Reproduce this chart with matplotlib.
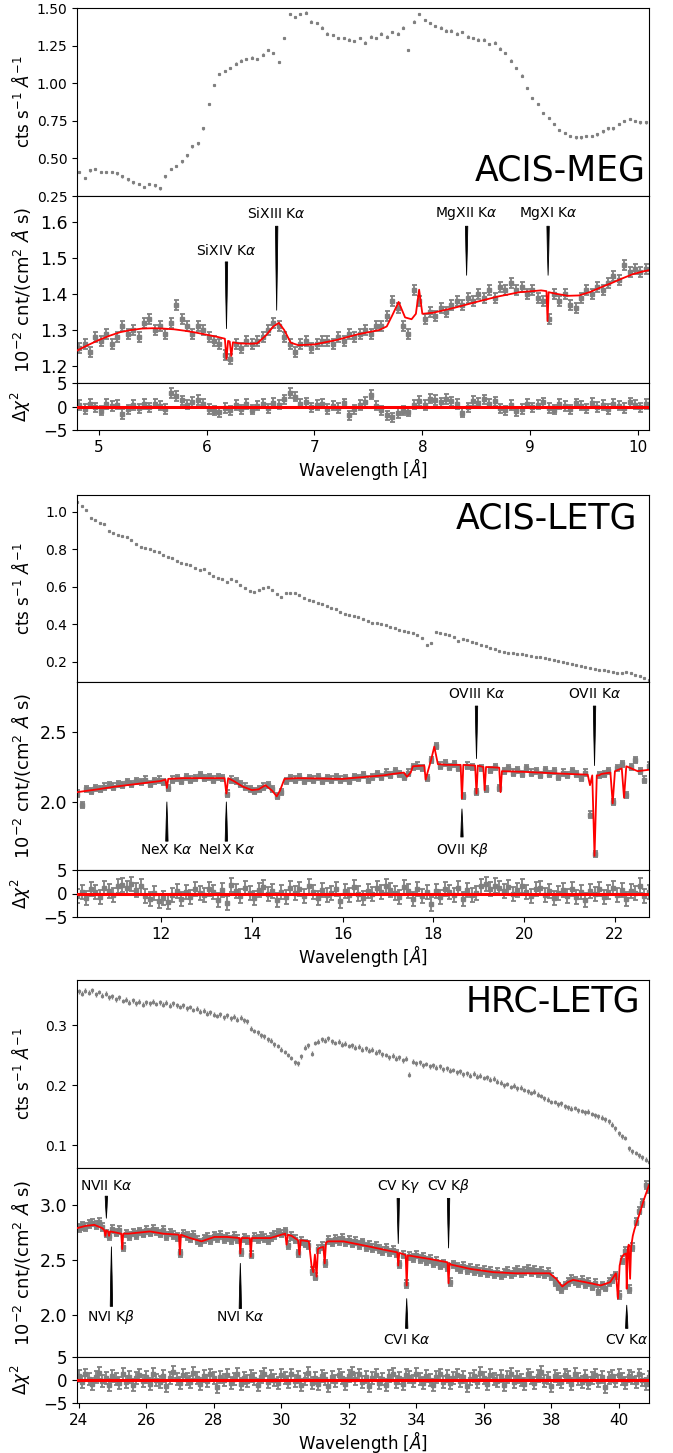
import numpy as np
import matplotlib
matplotlib.use('Agg')
import matplotlib.pyplot as plt

# ---------------- ACIS-MEG ----------------
# count rate (cts/s/A), 0.05 A bins starting at 4.82 A
meg_rate = [0.41, 0.37, 0.42, 0.43, 0.41, 0.41, 0.41, 0.40, 0.38, 0.36,
            0.34, 0.33, 0.31, 0.33, 0.32, 0.30, 0.38, 0.43, 0.45, 0.48,
            0.52, 0.58, 0.60, 0.70, 0.86, 0.99, 1.06, 1.08, 1.10, 1.13,
            1.15, 1.16, 1.17, 1.16, 1.19, 1.22, 1.20, 1.14, 1.30, 1.46,
            1.44, 1.46, 1.47, 1.41, 1.40, 1.37, 1.33, 1.32, 1.30, 1.30,
            1.29, 1.28, 1.30, 1.27, 1.31, 1.30, 1.33, 1.31, 1.34, 1.33,
            1.37, 1.22, 1.41, 1.46, 1.42, 1.40, 1.38, 1.37, 1.35, 1.35,
            1.33, 1.34, 1.31, 1.30, 1.29, 1.29, 1.26, 1.27, 1.23, 1.20,
            1.15, 1.10, 1.05, 0.97, 0.90, 0.86, 0.80, 0.77, 0.73, 0.69,
            0.67, 0.65, 0.64, 0.64, 0.65, 0.65, 0.66, 0.68, 0.70, 0.70,
            0.73, 0.75, 0.76, 0.75, 0.74, 0.74]
# unfolded flux (1e-2 cnt/cm2/A/s)
meg_flux = [1.25, 1.26, 1.24, 1.28, 1.27, 1.29, 1.26, 1.28, 1.31, 1.29,
            1.30, 1.28, 1.32, 1.33, 1.30, 1.31, 1.29, 1.32, 1.37, 1.33,
            1.31, 1.29, 1.31, 1.30, 1.28, 1.27, 1.26, 1.23, 1.22, 1.26,
            1.25, 1.27, 1.26, 1.27, 1.28, 1.30, 1.32, 1.31, 1.28, 1.26,
            1.24, 1.26, 1.27, 1.25, 1.26, 1.27, 1.27, 1.26, 1.28, 1.27,
            1.29, 1.28, 1.29, 1.30, 1.29, 1.31, 1.31, 1.34, 1.38, 1.36,
            1.31, 1.29, 1.41, 1.38, 1.33, 1.35, 1.34, 1.36, 1.35, 1.37,
            1.38, 1.37, 1.39, 1.38, 1.40, 1.39, 1.41, 1.39, 1.42, 1.41,
            1.43, 1.41, 1.42, 1.40, 1.41, 1.39, 1.38, 1.33, 1.40, 1.38,
            1.40, 1.37, 1.36, 1.39, 1.41, 1.40, 1.42, 1.41, 1.43, 1.45,
            1.44, 1.48, 1.46, 1.47, 1.46, 1.47]
meg_model_x = [4.80, 4.90, 5.00, 5.10, 5.20, 5.30, 5.40, 5.50, 5.60, 5.70,
               5.80, 5.90, 6.00, 6.10, 6.17, 6.185, 6.20, 6.215, 6.23, 6.245,
               6.30, 6.40, 6.47, 6.55, 6.62, 6.67, 6.72, 6.78, 6.85, 7.00,
               7.20, 7.40, 7.60, 7.67, 7.72, 7.78, 7.84, 7.90, 7.94, 7.97,
               8.00, 8.10, 8.30, 8.50, 8.70, 8.90, 9.10, 9.15, 9.16, 9.17,
               9.25, 9.35, 9.45, 9.55, 9.65, 9.75, 9.85, 9.95, 10.05, 10.10]
meg_model_y = [1.243, 1.258, 1.272, 1.284, 1.294, 1.300, 1.304, 1.305, 1.304, 1.302,
               1.298, 1.293, 1.287, 1.281, 1.276, 1.220, 1.270, 1.268, 1.228, 1.266,
               1.263, 1.262, 1.263, 1.285, 1.310, 1.320, 1.300, 1.265, 1.258, 1.260,
               1.272, 1.288, 1.300, 1.310, 1.340, 1.378, 1.335, 1.330, 1.345, 1.412,
               1.345, 1.348, 1.362, 1.378, 1.393, 1.405, 1.410, 1.408, 1.325, 1.405,
               1.400, 1.395, 1.396, 1.405, 1.418, 1.430, 1.443, 1.455, 1.463, 1.466]
meg_resid = [0.3, -0.5, 0.6, -0.2, -0.9, 0.5, 0.1, 0.4, -1.6, -0.6,
             0.3, -0.4, 0.5, -0.2, 0.6, 0.2, -0.5, 2.9, 2.2, 1.3,
             0.4, 1.0, 1.4, 0.6, -0.5, -0.9, -1.2, -0.3, -0.8, 0.3,
             -0.6, 0.5, -0.7, 0.2, 0.6, -0.4, 0.8, 0.4, 1.5, 2.9,
             2.1, 0.6, 0.9, -0.2, 0.3, 0.6, -0.5, 0.2, -0.3, 0.7,
             -1.9, -0.6, 0.3, 1.0, 2.5, 0.2, -0.8, -1.9, -2.3, -1.4,
             -0.9, -1.1, 0.4, 1.2, 0.3, 1.7, 1.4, 0.9, 1.6, 1.1,
             0.5, -1.3, -0.2, 1.2, 0.8, 1.5, 0.6, 1.1, -0.4, -0.8,
             0.3, -1.0, -0.5, 0.6, -0.2, 0.4, 0.9, -0.3, -0.7, 0.5,
             0.1, -0.6, 0.7, 0.2, -0.4, 0.8, -0.1, 0.3, -0.5, 0.6,
             0.2, -0.3, 0.9, 0.4, -0.2, 0.5]
meg_lines = ['SiXIV K$\\alpha$', 'SiXIII K$\\alpha$', 'MgXII K$\\alpha$', 'MgXI K$\\alpha$']
meg_line_x = [6.185, 6.65, 8.41, 9.165]
meg_line_text_y = [1.521, 1.623, 1.623, 1.623]
meg_line_tail_y = [1.489, 1.588, 1.588, 1.588]
meg_line_tip_y = [1.304, 1.355, 1.452, 1.452]

# ---------------- ACIS-LETG ----------------
# 0.1 A bins from 10.15 A
letg_rate = [1.055, 1.03, 1.01, 0.97, 0.955, 0.94, 0.935, 0.90, 0.885, 0.875,
             0.87, 0.865, 0.85, 0.83, 0.815, 0.81, 0.80, 0.79, 0.785, 0.77,
             0.76, 0.755, 0.74, 0.73, 0.72, 0.715, 0.70, 0.69, 0.695, 0.675,
             0.66, 0.645, 0.64, 0.625, 0.64, 0.63, 0.61, 0.595, 0.58, 0.575,
             0.585, 0.595, 0.60, 0.585, 0.56, 0.545, 0.565, 0.57, 0.565, 0.555,
             0.54, 0.53, 0.525, 0.515, 0.51, 0.50, 0.49, 0.48, 0.465, 0.455,
             0.45, 0.445, 0.44, 0.43, 0.42, 0.41, 0.405, 0.40, 0.395, 0.385,
             0.38, 0.37, 0.365, 0.36, 0.355, 0.345, 0.33, 0.29, 0.30, 0.36,
             0.355, 0.35, 0.345, 0.335, 0.31, 0.32, 0.315, 0.305, 0.30, 0.29,
             0.285, 0.275, 0.27, 0.26, 0.255, 0.25, 0.245, 0.24, 0.24, 0.235,
             0.23, 0.225, 0.225, 0.22, 0.215, 0.21, 0.205, 0.20, 0.195, 0.19,
             0.185, 0.18, 0.175, 0.17, 0.16, 0.155, 0.155, 0.15, 0.145, 0.14,
             0.14, 0.145, 0.14, 0.13, 0.125, 0.115, 0.105]
letg_flux = [2.06, 1.98, 2.09, 2.08, 2.10, 2.09, 2.11, 2.12, 2.11, 2.13,
             2.12, 2.14, 2.13, 2.15, 2.14, 2.16, 2.13, 2.15, 2.16, 2.14,
             2.10, 2.16, 2.17, 2.15, 2.18, 2.16, 2.17, 2.19, 2.17, 2.18,
             2.16, 2.18, 2.17, 2.06, 2.16, 2.15, 2.13, 2.11, 2.09, 2.08,
             2.09, 2.11, 2.12, 2.09, 2.04, 2.07, 2.15, 2.17, 2.16, 2.18,
             2.15, 2.17, 2.16, 2.18, 2.15, 2.17, 2.16, 2.18, 2.16, 2.17,
             2.15, 2.18, 2.17, 2.19, 2.16, 2.18, 2.20, 2.18, 2.21, 2.19,
             2.22, 2.20, 2.18, 2.21, 2.25, 2.26, 2.24, 2.17, 2.30, 2.40,
             2.26, 2.28, 2.25, 2.27, 2.24, 2.04, 2.26, 2.25, 2.07, 2.24,
             2.09, 2.23, 2.25, 2.10, 2.22, 2.24, 2.21, 2.23, 2.20, 2.24,
             2.21, 2.22, 2.19, 2.23, 2.20, 2.22, 2.18, 2.21, 2.19, 2.22,
             2.20, 2.17, 2.21, 1.91, 1.63, 2.19, 2.20, 2.22, 2.00, 2.24,
             2.27, 2.05, 2.25, 2.30, 2.22, 2.16, 2.26]
letg_model_x = [10.15, 10.6, 11.0, 11.5, 12.0, 12.10, 12.13, 12.16, 12.5, 13.0,
                13.40, 13.44, 13.48, 13.6, 13.8, 14.0, 14.15, 14.3, 14.45, 14.55,
                14.62, 14.72, 15.0, 16.0, 16.9, 17.1, 17.35, 17.42, 17.5, 17.55,
                17.8, 17.83, 17.88, 17.95, 18.02, 18.1, 18.3, 18.55, 18.6, 18.63,
                18.66, 18.92, 18.95, 18.98, 19.1, 19.13, 19.16, 19.45, 19.48, 19.51,
                20.0, 21.0, 21.4, 21.45, 21.5, 21.55, 21.6, 21.65, 21.7, 21.9,
                21.95, 22.0, 22.15, 22.2, 22.25, 22.5, 22.75]
letg_model_y = [2.07, 2.09, 2.11, 2.13, 2.15, 2.16, 2.10, 2.165, 2.17, 2.17,
                2.17, 2.06, 2.17, 2.15, 2.11, 2.085, 2.09, 2.12, 2.08, 2.04,
                2.08, 2.165, 2.17, 2.165, 2.19, 2.20, 2.21, 2.18, 2.21, 2.255,
                2.26, 2.16, 2.22, 2.30, 2.395, 2.27, 2.265, 2.265, 2.265, 2.025,
                2.265, 2.26, 2.06, 2.26, 2.25, 2.085, 2.25, 2.245, 2.07, 2.22,
                2.215, 2.20, 2.195, 2.12, 2.19, 1.615, 2.19, 2.19, 2.20, 2.21,
                1.99, 2.22, 2.24, 2.03, 2.255, 2.22, 2.23]
letg_resid = [-0.6, 0.4, -1.0, 0.9, 0.3, -0.8, 1.2, 0.5, -0.4, 1.6,
              1.9, 1.1, 2.0, 0.8, 1.5, -0.5, -1.2, 0.2, -1.5, -0.9,
              -1.8, -0.4, 0.6, -1.1, 0.3, -0.7, 0.9, 0.1, -0.3, 1.0,
              0.4, -1.4, 0.7, -2.0, 1.8, 0.5, -0.6, 1.1, 0.2, -0.9,
              0.8, 1.4, -0.2, 0.6, -1.3, 0.3, -0.8, 1.2, 0.1, 0.9,
              -0.5, 1.5, 0.4, -1.0, 0.7, -0.3, 0.2, 1.0, -1.6, 0.5,
              -0.4, 1.3, 0.0, -0.9, 0.6, -0.2, 1.1, 0.3, 1.6, 0.8,
              0.2, -0.7, 1.4, 0.5, -1.2, 0.9, -0.5, 0.3, -2.3, 0.6,
              -0.8, 1.0, 0.4, -0.3, 1.2, -1.1, 0.7, -0.4, 0.1, 1.5,
              2.0, 0.9, 1.7, 1.1, 0.6, 1.3, -0.2, 0.8, 1.6, 0.4,
              -0.6, 0.9, 1.2, -0.3, 0.5, -1.0, 0.2, 0.7, -0.5, 1.0,
              -0.8, 0.4, -1.3, 0.6, -0.2, 0.9, -0.7, 0.3, 1.1, -0.4,
              0.8, -1.1, 0.5, 0.2, 1.7, -0.6, 0.3]
letg_lines = ['NeX K$\\alpha$', 'NeIX K$\\alpha$', 'OVII K$\\beta$', 'OVIII K$\\alpha$', 'OVII K$\\alpha$']
letg_line_x = [12.13, 13.44, 18.63, 18.95, 21.55]
letg_line_text_y = [1.66, 1.66, 1.66, 2.77, 2.77]
letg_line_tail_y = [1.72, 1.72, 1.75, 2.685, 2.685]
letg_line_tip_y = [2.00, 2.00, 1.95, 2.31, 2.26]

# ---------------- HRC-LETG ----------------
# 0.1 A bins from 24.0 A
hrc_rate = [0.356, 0.352, 0.357, 0.354, 0.358, 0.351, 0.355, 0.349, 0.352, 0.346,
            0.348, 0.343, 0.346, 0.340, 0.342, 0.337, 0.341, 0.336, 0.339, 0.334,
            0.338, 0.336, 0.339, 0.335, 0.338, 0.334, 0.337, 0.332, 0.336, 0.333,
            0.330, 0.333, 0.328, 0.330, 0.325, 0.327, 0.322, 0.324, 0.319, 0.321,
            0.317, 0.315, 0.318, 0.313, 0.316, 0.311, 0.314, 0.309, 0.312, 0.308,
            0.306, 0.294, 0.290, 0.288, 0.283, 0.281, 0.276, 0.274, 0.268, 0.265,
            0.259, 0.255, 0.250, 0.245, 0.238, 0.236, 0.248, 0.262, 0.266, 0.252,
            0.270, 0.272, 0.276, 0.274, 0.278, 0.273, 0.270, 0.272, 0.267, 0.269,
            0.265, 0.266, 0.262, 0.264, 0.259, 0.261, 0.257, 0.259, 0.254, 0.256,
            0.251, 0.250, 0.246, 0.249, 0.244, 0.246, 0.241, 0.244, 0.217, 0.239,
            0.236, 0.238, 0.233, 0.235, 0.231, 0.233, 0.229, 0.231, 0.226, 0.228,
            0.224, 0.225, 0.221, 0.223, 0.218, 0.220, 0.216, 0.219, 0.214, 0.216,
            0.212, 0.213, 0.209, 0.211, 0.206, 0.204, 0.200, 0.202, 0.197, 0.199,
            0.195, 0.196, 0.192, 0.190, 0.187, 0.189, 0.184, 0.182, 0.178, 0.176,
            0.172, 0.172, 0.168, 0.170, 0.165, 0.163, 0.161, 0.162, 0.158, 0.157,
            0.155, 0.156, 0.152, 0.150, 0.148, 0.146, 0.143, 0.140, 0.134, 0.128,
            0.120, 0.115, 0.112, 0.095, 0.090, 0.087, 0.083, 0.080, 0.076, 0.072]
hrc_flux = [2.79, 2.81, 2.80, 2.83, 2.84, 2.82, 2.85, 2.80, 2.74, 2.72,
            2.78, 2.75, 2.77, 2.62, 2.74, 2.72, 2.75, 2.73, 2.76, 2.74,
            2.77, 2.75, 2.78, 2.76, 2.74, 2.77, 2.72, 2.75, 2.73, 2.71,
            2.56, 2.74, 2.72, 2.70, 2.73, 2.68, 2.66, 2.69, 2.71, 2.68,
            2.72, 2.70, 2.73, 2.69, 2.71, 2.68, 2.72, 2.69, 2.57, 2.70,
            2.68, 2.55, 2.71, 2.69, 2.72, 2.70, 2.68, 2.71, 2.73, 2.75,
            2.74, 2.76, 2.64, 2.72, 2.69, 2.56, 2.67, 2.65, 2.64, 2.40,
            2.35, 2.60, 2.63, 2.47, 2.68, 2.66, 2.69, 2.67, 2.70, 2.66,
            2.68, 2.65, 2.67, 2.64, 2.66, 2.62, 2.64, 2.61, 2.63, 2.60,
            2.58, 2.61, 2.57, 2.59, 2.56, 2.46, 2.55, 2.28, 2.54, 2.52,
            2.55, 2.51, 2.53, 2.49, 2.51, 2.47, 2.49, 2.45, 2.47, 2.44,
            2.30, 2.46, 2.44, 2.42, 2.45, 2.41, 2.43, 2.40, 2.42, 2.39,
            2.41, 2.38, 2.40, 2.37, 2.39, 2.36, 2.38, 2.40, 2.37, 2.39,
            2.41, 2.38, 2.40, 2.42, 2.39, 2.41, 2.38, 2.40, 2.37, 2.39,
            2.35, 2.30, 2.26, 2.24, 2.27, 2.30, 2.33, 2.31, 2.29, 2.32,
            2.28, 2.30, 2.26, 2.29, 2.22, 2.27, 2.25, 2.30, 2.33, 2.36,
            2.18, 2.50, 2.58, 2.24, 2.62, 2.85, 2.95, 3.02, 3.18, 3.14]
hrc_model_x = [23.95, 24.2, 24.46, 24.7, 24.76, 24.79, 24.82, 24.87, 24.90, 24.93,
               25.1, 25.26, 25.29, 25.32, 25.48, 25.8, 26.11, 26.5, 26.97, 27.0,
               27.03, 27.3, 27.64, 28.02, 28.4, 28.76, 28.79, 28.82, 29.07, 29.10,
               29.13, 29.4, 29.68, 30.0, 30.12, 30.16, 30.20, 30.31, 30.50, 30.54,
               30.58, 30.7, 30.82, 30.90, 30.95, 31.0, 31.05, 31.09, 31.14, 31.25,
               31.29, 31.33, 31.39, 31.84, 32.5, 33.11, 33.44, 33.47, 33.50, 33.56,
               33.69, 33.72, 33.75, 33.81, 34.4, 34.93, 34.96, 34.99, 35.02, 35.6,
               36.29, 36.93, 37.5, 37.95, 38.15, 38.33, 38.5, 38.65, 39.0, 39.47,
               39.75, 39.92, 39.98, 40.03, 40.08, 40.15, 40.22, 40.24, 40.27, 40.30,
               40.34, 40.37, 40.42, 40.47, 40.62, 40.75, 40.9]
hrc_model_y = [2.79, 2.81, 2.82, 2.79, 2.77, 2.72, 2.77, 2.76, 2.72, 2.76,
               2.75, 2.74, 2.60, 2.74, 2.74, 2.75, 2.76, 2.74, 2.73, 2.55,
               2.73, 2.70, 2.67, 2.71, 2.71, 2.70, 2.56, 2.70, 2.70, 2.53,
               2.70, 2.70, 2.70, 2.73, 2.74, 2.64, 2.73, 2.72, 2.68, 2.55,
               2.68, 2.675, 2.67, 2.45, 2.39, 2.55, 2.35, 2.60, 2.61, 2.62,
               2.47, 2.66, 2.67, 2.67, 2.63, 2.59, 2.57, 2.45, 2.565, 2.56,
               2.545, 2.27, 2.54, 2.54, 2.51, 2.48, 2.29, 2.47, 2.46, 2.42,
               2.39, 2.38, 2.38, 2.38, 2.33, 2.26, 2.30, 2.32, 2.30, 2.27,
               2.30, 2.38, 2.15, 2.45, 2.52, 2.55, 2.56, 2.24, 2.60, 2.64,
               2.33, 2.62, 2.72, 2.78, 2.92, 3.05, 3.18]
hrc_resid = [0.8, -0.5, 1.2, 0.3, -0.9, 0.6, 1.5, -0.2, 0.4, -1.1,
             0.9, 0.2, -0.6, 1.3, -0.4, 0.7, -1.0, 0.5, 1.1, -0.3,
             0.6, -0.8, 1.4, 0.1, -0.5, 0.9, -1.3, 0.4, 1.8, 0.2,
             -0.7, 1.0, 0.3, -0.4, 1.6, 0.5, -0.9, 0.8, -0.2, 1.2,
             0.4, -1.5, 0.7, 0.0, 1.1, -0.6, 0.3, 1.4, -0.8, 0.5,
             -0.3, 0.9, 0.2, -1.1, 0.6, 1.3, -0.4, 0.8, 0.1, -0.7,
             1.0, 0.4, -0.5, 1.2, -0.2, 0.7, -1.0, 0.3, 1.5, -0.6,
             0.5, -0.9, 0.8, 0.2, -1.4, 0.6, -0.3, 1.1, 0.4, -0.8,
             0.9, 1.6, 0.3, 1.2, -0.4, 0.7, -1.2, 0.5, 1.0, -0.6,
             0.2, -1.0, 0.8, 1.3, -0.5, 0.4, -0.9, 1.1, 0.6, -0.2,
             1.4, 0.3, -0.7, 0.9, 0.1, -1.1, 0.6, 1.2, -0.4, 0.8,
             -0.6, 0.5, 1.0, -0.3, 0.7, -1.3, 0.2, 0.9, -0.5, 1.5,
             0.4, -0.8, 1.1, 0.3, -0.2, 0.8, -1.0, 0.6, 1.3, -0.4,
             0.7, 0.1, -0.9, 1.2, 0.5, -0.6, 0.9, 1.7, -0.3, 0.4,
             -1.2, 0.8, 0.3, -0.5, 1.0, 0.6, -0.8, 1.4, 0.2, -0.4,
             0.9, -0.7, 0.5, 1.1, -0.3, 0.7, -1.5, 0.4, 0.8, -0.2,
             1.0, 0.3, -0.6, 0.9, 0.5, -0.4, 1.2, 0.1, -0.8, 0.6]
hrc_lines = ['NVII K$\\alpha$', 'NVI K$\\beta$', 'NVI K$\\alpha$', 'CV K$\\gamma$',
             'CVI K$\\alpha$', 'CV K$\\beta$', 'CV K$\\alpha$']
hrc_line_x = [24.82, 24.97, 28.79, 33.47, 33.72, 34.96, 40.24]
hrc_line_text_y = [3.17, 1.985, 1.985, 3.17, 1.77, 3.17, 1.77]
hrc_line_tail_y = [3.08, 2.08, 2.06, 3.06, 1.88, 3.06, 1.88]
hrc_line_tip_y = [2.88, 2.62, 2.47, 2.65, 2.15, 2.61, 2.09]

grey = 'grey'
fig = plt.figure(figsize=(6.73, 14.53), dpi=100)
left = 77 / 673
width = 572 / 673
H = 1453.0


def axes_px(top, bottom):
    # top/bottom in image pixels
    return fig.add_axes([left, 1 - bottom / H, width, (bottom - top) / H])


def draw_group(px, x0, step, xlim, rate, rate_err, rate_ylim, rate_ticks, rate_fmt,
               flux, flux_err, flux_ylim, flux_ticks, model_x, model_y,
               resid, resid_err, xticks, name, name_pos, lines, line_x,
               text_y, tail_y, tip_y):
    ax1 = axes_px(px[0], px[1])
    ax2 = axes_px(px[1], px[2])
    ax3 = axes_px(px[2], px[3])

    # count rate
    xr = x0 + step * np.arange(len(rate))
    ax1.errorbar(xr, rate, yerr=rate_err, fmt='s', ms=1.3, color=grey,
                 elinewidth=1.0, capsize=0)
    ax1.set_xlim(xlim)
    ax1.set_ylim(rate_ylim)
    ax1.set_yticks(rate_ticks)
    ax1.set_yticklabels([rate_fmt % t for t in rate_ticks])
    ax1.tick_params(axis='x', bottom=False, labelbottom=False)
    ax1.tick_params(axis='y', labelsize=10)
    ax1.set_ylabel('cts s$^{-1}$ $\\AA^{-1}$', fontsize=12)
    ax1.text(name_pos[0], name_pos[1], name, transform=ax1.transAxes,
             fontsize=25, ha='right', va=name_pos[2])

    # unfolded flux + model
    xf = x0 + step * np.arange(len(flux))
    ax2.errorbar(xf, flux, yerr=flux_err, fmt='s', ms=2.5, color=grey,
                 elinewidth=1.3, capsize=1.8, capthick=1.3)
    ax2.plot(model_x, model_y, color='red', lw=1.3, zorder=5)
    for lab, lx, ty, ay, by in zip(lines, line_x, text_y, tail_y, tip_y):
        ax2.text(lx, ty, lab, ha='center', va='center', fontsize=10)
        ax2.annotate('', xy=(lx, by), xytext=(lx, ay),
                     arrowprops=dict(arrowstyle='wedge,tail_width=0.17,shrink_factor=0.6',
                                     color='k', lw=0.6, shrinkA=0, shrinkB=0))
    ax2.set_xlim(xlim)
    ax2.set_ylim(flux_ylim)
    ax2.set_yticks(flux_ticks)
    ax2.tick_params(axis='x', bottom=False, labelbottom=False)
    ax2.tick_params(axis='y', labelsize=12.5)
    ax2.set_ylabel('10$^{-2}$ cnt/(cm$^2$ $\\AA$ s)', fontsize=13)

    # residuals
    xs = x0 + step * np.arange(len(resid))
    ax3.errorbar(xs, resid, yerr=resid_err, fmt='s', ms=2.5, color=grey,
                 elinewidth=1.3, capsize=1.8, capthick=1.3)
    ax3.axhline(0, color='red', lw=2.2, zorder=5)
    ax3.set_xlim(xlim)
    ax3.set_ylim(-5, 5)
    ax3.set_yticks([-5, 0, 5])
    ax3.set_xticks(xticks)
    ax3.tick_params(axis='y', labelsize=12)
    ax3.tick_params(axis='x', labelsize=11)
    ax3.set_ylabel('$\\Delta\\chi^2$', fontsize=12)
    ax3.set_xlabel('Wavelength [$\\AA$]', fontsize=12, labelpad=1)

    for a in (ax1, ax2, ax3):
        a.yaxis.set_label_coords(-0.077, 0.5)


draw_group([8, 196, 383, 430], 4.82, 0.05, (4.8, 10.1),
           meg_rate, 0.008, (0.25, 1.5), [0.25, 0.5, 0.75, 1.0, 1.25, 1.5], '%.2f',
           meg_flux, 0.014, (1.153, 1.672), [1.2, 1.3, 1.4, 1.5, 1.6],
           meg_model_x, meg_model_y, meg_resid, 1.0, [5, 6, 7, 8, 9, 10],
           'ACIS-MEG', (0.995, 0.045, 'bottom'), meg_lines, meg_line_x,
           meg_line_text_y, meg_line_tail_y, meg_line_tip_y)

draw_group([495, 682, 870, 917], 10.15, 0.1, (10.15, 22.75),
           letg_rate, 0.004, (0.093, 1.09), [0.2, 0.4, 0.6, 0.8, 1.0], '%.1f',
           letg_flux, 0.022, (1.514, 2.857), [2.0, 2.5],
           letg_model_x, letg_model_y, letg_resid, 1.5, [12, 14, 16, 18, 20, 22],
           'ACIS-LETG', (0.98, 0.965, 'top'), letg_lines, letg_line_x,
           letg_line_text_y, letg_line_tail_y, letg_line_tip_y)

draw_group([980, 1168, 1357, 1403], 24.0, 0.1, (23.95, 40.9),
           hrc_rate, 0.004, (0.062, 0.375), [0.1, 0.2, 0.3], '%.1f',
           hrc_flux, 0.035, (1.62, 3.336), [2.0, 2.5, 3.0],
           hrc_model_x, hrc_model_y, hrc_resid, 1.3, [24, 26, 28, 30, 32, 34, 36, 38, 40],
           'HRC-LETG', (0.985, 0.975, 'top'), hrc_lines, hrc_line_x,
           hrc_line_text_y, hrc_line_tail_y, hrc_line_tip_y)

fig.savefig('out.png', dpi=100)
